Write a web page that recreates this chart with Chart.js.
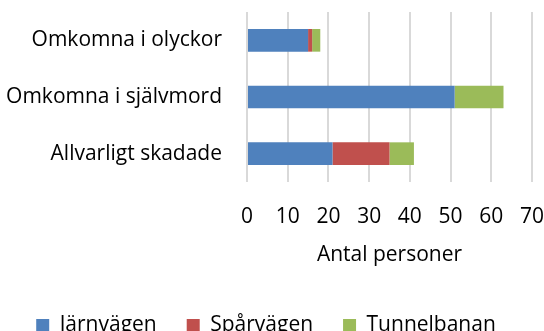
<!DOCTYPE html>
<html>
<head>
<meta charset="utf-8">
<script src="https://cdn.jsdelivr.net/npm/chart.js@4"></script>
<style>
  html, body { margin: 0; padding: 0; background: #fff; overflow: hidden; }
  #wrap { width: 544px; height: 346px; }
</style>
</head>
<body>
<div id="wrap"><canvas id="chart"></canvas></div>
<script>
// categories and values per mode of transport
var categories = ['Omkomna i olyckor', 'Omkomna i självmord', 'Allvarligt skadade'];
var jarnvagen = [15, 51, 21];
var sparvagen = [1, 0, 14];
var tunnelbanan = [2, 12, 6];
var xTicks = [0, 10, 20, 30, 40, 50, 60, 70];

var font = { family: 'Open Sans', size: 21 };

function barSet(label, data, color) {
  return {
    label: label,
    data: data,
    backgroundColor: color,
    borderWidth: 0,
    categoryPercentage: 1,
    barPercentage: 0.4
  };
}

var ctx = document.getElementById('chart').getContext('2d');
var chart = new Chart(ctx, {
  type: 'bar',
  data: {
    labels: categories,
    datasets: [
      barSet('Järnvägen', jarnvagen, '#4F81BD'),
      barSet('Spårvägen', sparvagen, '#C0504D'),
      barSet('Tunnelbanan', tunnelbanan, '#9BBB59')
    ]
  },
  options: {
    indexAxis: 'y',
    responsive: true,
    maintainAspectRatio: false,
    animation: false,
    layout: { padding: { top: 12, right: 12, left: 0, bottom: 0 } },
    scales: {
      x: {
        stacked: true,
        min: xTicks[0],
        max: xTicks[xTicks.length - 1],
        afterBuildTicks: function (axis) {
          axis.ticks = xTicks.map(function (v) { return { value: v }; });
        },
        // fixed axis height, no extra side padding for the end labels
        afterFit: function (axis) {
          axis.height = 103;
          axis.paddingLeft = 0;
          axis.paddingRight = 0;
        },
        grid: { color: '#d9d9d9', lineWidth: 2, drawTicks: false },
        border: { display: false },
        ticks: { color: '#000', font: font, padding: 22 },
        title: { display: true, text: 'Antal personer', color: '#000', font: font, padding: { top: 0, bottom: 17 } }
      },
      y: {
        stacked: true,
        afterFit: function (axis) {
          axis.width = 247;
          axis.paddingTop = 0;
          axis.paddingBottom = 0;
        },
        grid: { display: false, drawTicks: false },
        border: { display: false },
        ticks: { color: '#000', font: font, padding: 25 }
      }
    },
    plugins: {
      legend: {
        position: 'bottom',
        labels: { color: '#000', font: font, boxWidth: 13, boxHeight: 13, padding: 30 }
      },
      tooltip: { enabled: false }
    }
  }
});
</script>
</body>
</html>
